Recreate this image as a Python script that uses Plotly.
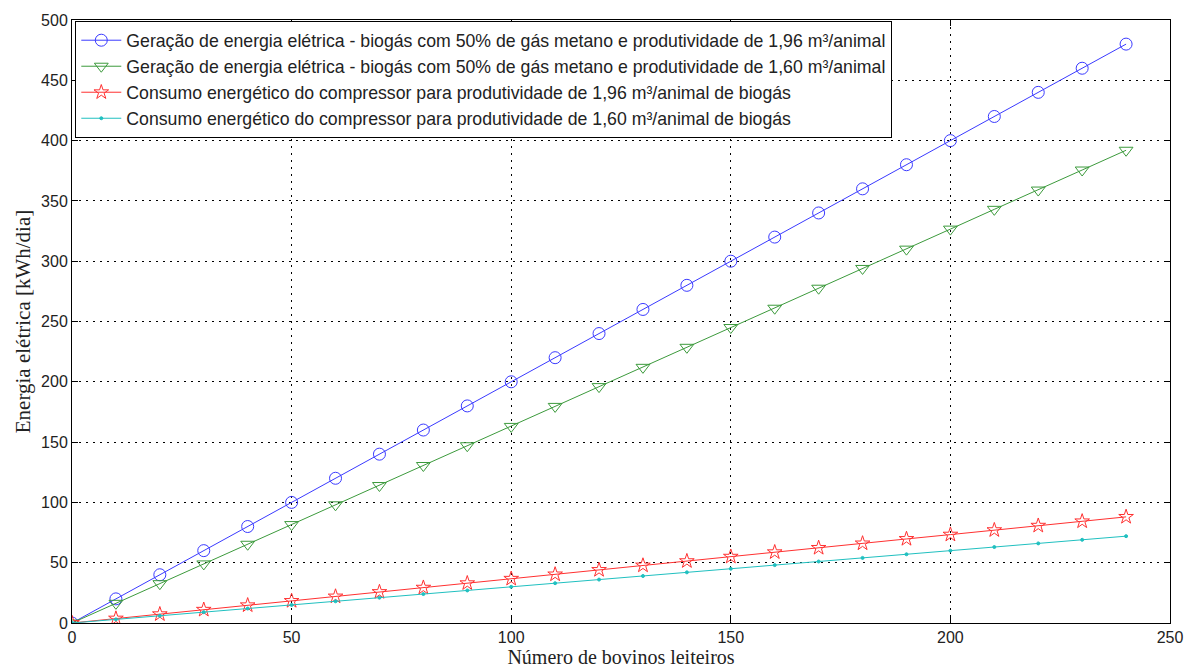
import plotly.graph_objects as go

bovinos = [0, 10, 20, 30, 40, 50, 60, 70, 80, 90, 100, 110, 120, 130, 140, 150,
           160, 170, 180, 190, 200, 210, 220, 230, 240]
geracao_196 = [0, 20, 40, 60, 80, 100, 120, 140, 160, 180, 200, 220, 240, 260, 280, 300,
               320, 340, 360, 380, 400, 420, 440, 460, 480]
geracao_160 = [0, 16.3, 32.6, 49, 65.3, 81.6, 98, 114, 130.6, 147, 163, 179.6, 196, 212,
               228.6, 245, 261, 277.6, 294, 310, 326.6, 343, 359, 375.6, 392]
consumo_196 = [0, 3.7, 7.3, 11, 14.7, 18.3, 22, 25.7, 29.3, 33, 36.7, 40.3, 44, 47.7,
               51.3, 55, 58.7, 62.3, 66, 69.7, 73.3, 77, 80.7, 84.3, 88]
consumo_160 = [0, 3, 6, 9, 12, 15, 18, 21, 24, 27, 30, 33, 36, 39, 42, 45, 48, 51, 54,
               57, 60, 63, 66, 69, 72]

names = [
    "Geração de energia elétrica - biogás com 50% de gás metano e produtividade de 1,96 m³/animal",
    "Geração de energia elétrica - biogás com 50% de gás metano e produtividade de 1,60 m³/animal",
    "Consumo energético do compressor para produtividade de 1,96 m³/animal de biogás",
    "Consumo energético do compressor para produtividade de 1,60 m³/animal de biogás",
]
series = [geracao_196, geracao_160, consumo_196, consumo_160]
colors = ["#3a3aff", "#3c9a3c", "#ff3030", "#20c0c0"]
symbols = ["circle-open", "triangle-down-open", "star-open", "circle"]
sizes = [12, 12, 11, 3]

fig = go.Figure()
for n, s, c, sym, sz in zip(names, series, colors, symbols, sizes):
    fig.add_trace(go.Scatter(
        x=bovinos, y=s, name=n, mode="lines+markers",
        line=dict(color=c, width=1),
        marker=dict(symbol=sym, size=sz, color=c, line=dict(color=c, width=1)),
    ))

axis_common = dict(
    showline=True, linecolor="black", linewidth=1, mirror="ticks",
    ticks="inside", ticklen=6, tickcolor="black",
    showgrid=True, gridcolor="black", griddash="2px,5px", gridwidth=1,
    zeroline=False,
    tickfont=dict(family="Liberation Sans, Arial", size=16, color="#222"),
)

fig.update_layout(
    width=1195, height=672,
    margin=dict(l=72, r=25, t=15, b=49),
    paper_bgcolor="white", plot_bgcolor="white",
    xaxis=dict(range=[0, 250], dtick=50,
               title=dict(text="Número de bovinos leiteiros", standoff=0,
                          font=dict(family="Liberation Serif, Times New Roman", size=20, color="#222")),
               **axis_common),
    yaxis=dict(range=[0, 500], dtick=50,
               title=dict(text="Energia elétrica [kWh/dia]", standoff=4,
                          font=dict(family="Liberation Serif, Times New Roman", size=21, color="#222")),
               **axis_common),
    legend=dict(x=0.003, y=0.998, xanchor="left", yanchor="top",
                bgcolor="white", bordercolor="black", borderwidth=1,
                font=dict(family="Liberation Sans, Arial", size=17.7, color="#222"),
                tracegroupgap=0, itemwidth=40),
    showlegend=True,
)

fig.write_html("out.html")
